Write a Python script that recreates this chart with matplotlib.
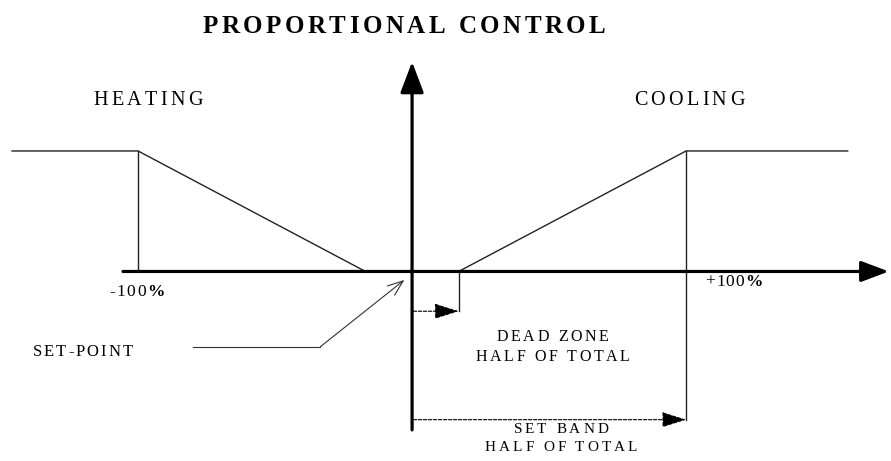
import matplotlib.pyplot as plt
from matplotlib import font_manager
from matplotlib.ft2font import FT2Font
from matplotlib.transforms import offset_copy

# Output (%) versus deviation from set-point (%)
heat_x = [-146, -100, -17]
heat_y = [100, 100, 0]
cool_x = [17, 100, 159]
cool_y = [0, 100, 100]
dead_zone = 17      # half of the total dead zone
set_band = 100      # half of the total band

plt.rcParams['font.family'] = ['Liberation Serif', 'DejaVu Serif']
DPI = 100

fig = plt.figure(figsize=(8.91, 4.61), dpi=DPI)
ax = fig.add_axes([0, 0, 1, 1])
ax.set_xlim(-150.4, 174.8)
ax.set_ylim(-157.3, 225.3)
ax.axis('off')


def spaced_text(x, y, s, size, track, weight='normal', bold_chars=''):
    # letter-spaced text, centred on (x, y); track is extra pixels per gap
    fonts = {}
    for w in ('normal', 'bold'):
        prop = font_manager.FontProperties(family='Liberation Serif', weight=w)
        f = FT2Font(font_manager.findfont(prop))
        f.set_size(size, DPI)
        fonts[w] = f
    weights = ['bold' if ch in bold_chars else weight for ch in s]
    adv = [fonts[w].load_char(ord(ch)).linearHoriAdvance / 65536
           for ch, w in zip(s, weights)]
    total = sum(adv) + track * (len(s) - 1)
    pos = -total / 2
    for ch, a, w in zip(s, adv, weights):
        tr = offset_copy(ax.transData, fig=fig, x=pos, y=0, units='dots')
        ax.text(x, y, ch, transform=tr, ha='left', va='center',
                fontsize=size, fontweight=w)
        pos += a + track


# curves
ax.plot(heat_x, heat_y, color='#222222', lw=1.0)
ax.plot(cool_x, cool_y, color='#222222', lw=1.0)
ax.plot([heat_x[1], heat_x[1]], [0, heat_y[1]], color='#222222', lw=1.0)
ax.plot([cool_x[1], cool_x[1]], [-123, cool_y[1]], color='#222222', lw=1.0)
ax.plot([dead_zone, dead_zone], [-33, 0], color='#222222', lw=1.0)

# main axes with arrows
ax.annotate('', xy=(174, 0), xytext=(-105.5, 0),
            arrowprops=dict(arrowstyle='-|>,head_length=0.85,head_width=0.32',
                            lw=2.3, color='black', shrinkA=0, shrinkB=0,
                            mutation_scale=20))
ax.annotate('', xy=(0, 174), xytext=(0, -131.5),
            arrowprops=dict(arrowstyle='-|>,head_length=0.95,head_width=0.36',
                            lw=2.3, color='black', shrinkA=0, shrinkB=0,
                            mutation_scale=20))

# dead zone and set band arrows
for x_end, y_lvl in [(dead_zone, -33), (set_band, -123)]:
    ax.annotate('', xy=(x_end, y_lvl), xytext=(0.5, y_lvl),
                arrowprops=dict(arrowstyle='-|>,head_length=0.95,head_width=0.3',
                                lw=0.8, ls=(0, (3, 1.5)), color='black',
                                shrinkA=0, shrinkB=0, mutation_scale=16))

# set-point pointer
ax.plot([-80, -33.5], [-62.5, -62.5], color='#333333', lw=0.8)
ax.annotate('', xy=(-2.8, -7), xytext=(-33.5, -62.5),
            arrowprops=dict(arrowstyle='->,head_length=0.8,head_width=0.3',
                            lw=0.8, color='#333333', shrinkA=0, shrinkB=0,
                            mutation_scale=14))

# texts
spaced_text(-2.9, 203.7, 'PROPORTIONAL CONTROL', 18, 3.5, weight='bold')
spaced_text(-96.4, 142.3, 'HEATING', 14.5, 3.3)
spaced_text(101.1, 142.3, 'COOLING', 14.5, 3.3)
spaced_text(-100.4, -17, '-100%', 12.5, 1.5, bold_chars='%')
spaced_text(117.5, -8.7, '+100%', 12.5, 1.0, bold_chars='%')
spaced_text(-120.3, -66.8, 'SET-POINT', 12, 2.0)
spaced_text(51.3, -54.4, 'DEAD ZONE', 11.5, 2.6)
spaced_text(51.3, -71, 'HALF OF TOTAL', 11.5, 2.6)
spaced_text(54.3, -131.3, 'SET BAND', 11, 2.9)
spaced_text(54.3, -146.2, 'HALF OF TOTAL', 11, 2.9)

fig.savefig('out.png', dpi=DPI)
